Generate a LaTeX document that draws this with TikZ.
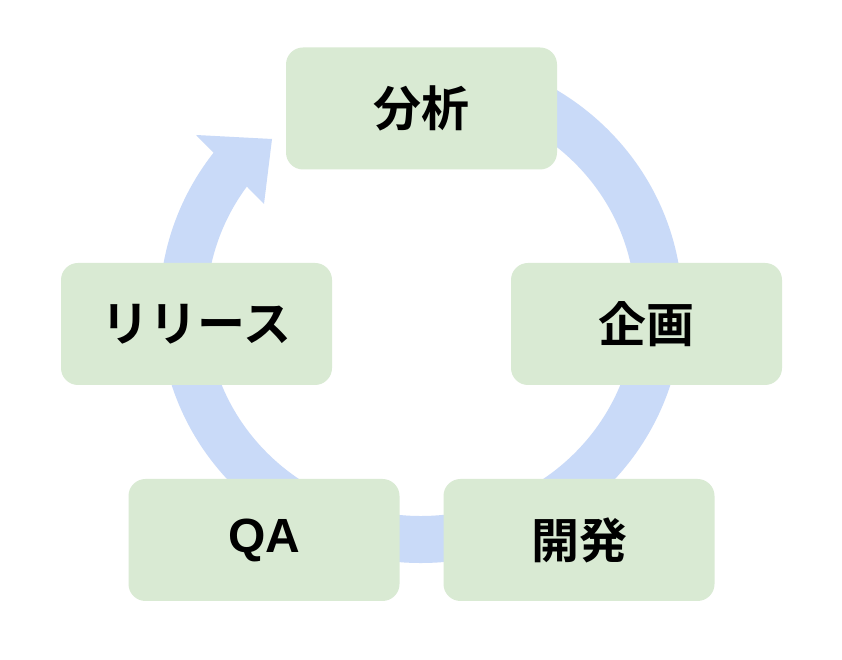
\documentclass[tikz,border=0pt]{standalone}
\usepackage{fontspec}
\usepackage{tikz}
\usetikzlibrary{positioning}
\newfontfamily\jpfont{Noto Sans CJK JP}[BoldFont={Noto Sans CJK JP Bold}]
\newfontfamily\latinfont{Liberation Sans}
\definecolor{stagegreen}{HTML}{D9EAD3}
\definecolor{ringblue}{HTML}{C9DAF8}
\newcommand{\jp}[1]{{\jpfont\bfseries #1}}

\begin{document}
\begin{tikzpicture}[x=1pt, y=1pt,
  stage/.style={fill=stagegreen, rounded corners=17pt, minimum width=271pt,
    minimum height=122pt, inner sep=0pt, outer sep=0pt,
    font=\fontsize{48pt}{58pt}\selectfont},
  ring/.style={draw=ringblue, line width=47pt}]
  \fill[white] (0,0) rectangle (842,660);
  \useasboundingbox (0,0) rectangle (842,660);

  % the cycle ring, under the boxes
  \coordinate (ctr) at (421,352);
  \draw[ring] ([shift={(95:238pt and 231.5pt)}]ctr)
    arc[start angle=95, end angle=-219, x radius=238pt, y radius=231.5pt];
  \coordinate (headout) at (196,525);
  \coordinate (headtip) at (272,521);
  \coordinate (headin) at (264,456);
  \fill[ringblue] (headout) -- (headtip) -- (headin) -- cycle;

  \node[stage] (bunseki) at (421.5,551.5) {\jp{分析}};

  \node[stage] (kikaku) at (646.5,336) {\jp{企画}};
  \node[stage] (release) [left=179pt of kikaku] {\jp{リリース}};

  \node[stage] (kaihatsu) at (579,120) {\jp{開発}};
  \node[stage] (qa) [left=44pt of kaihatsu] {{\latinfont\bfseries QA}};

\end{tikzpicture}
\end{document}
